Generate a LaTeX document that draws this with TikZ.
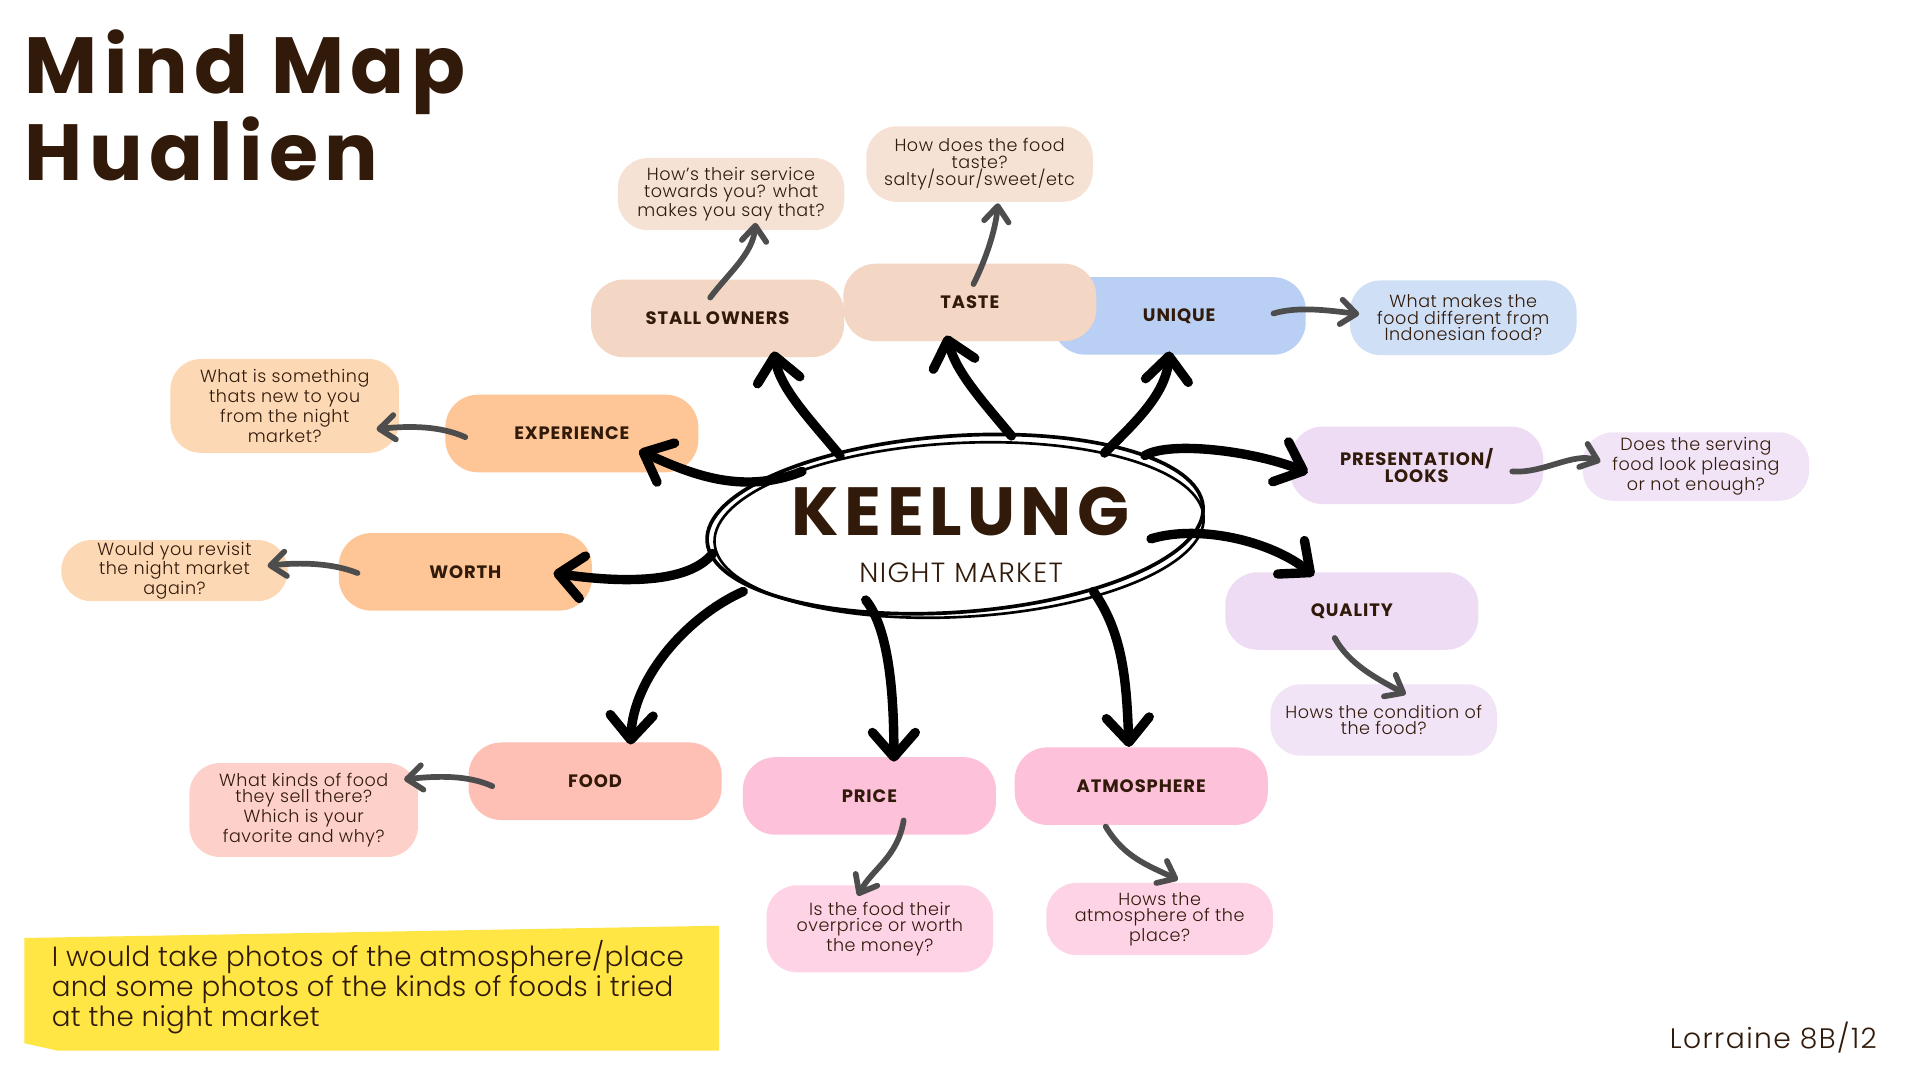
\documentclass[tikz,border=0pt]{standalone}
\usepackage{fontspec}
\usetikzlibrary{arrows.meta,calc}
\setmainfont{Poppins}
\newfontfamily\titlef{Poppins}[LetterSpace=8]
\newfontfamily\labf{Poppins}[LetterSpace=5]
\newfontfamily\qf{Poppins Light}[LetterSpace=3]
\newfontfamily\notef{Poppins Light}[LetterSpace=1]
\newfontfamily\nmf{Poppins Light}[LetterSpace=5]
\definecolor{ink}{HTML}{311A0A}
\definecolor{cPeach}{HTML}{F3D6C3}
\definecolor{cPeachL}{HTML}{F6E1D5}
\definecolor{cBlue}{HTML}{B9CFF3}
\definecolor{cBlueL}{HTML}{CFDFF6}
\definecolor{cLav}{HTML}{EDDCF3}
\definecolor{cLavL}{HTML}{F2E4F7}
\definecolor{cOrange}{HTML}{FEC596}
\definecolor{cOrangeL}{HTML}{FDD8B4}
\definecolor{cSalmon}{HTML}{FEBFB4}
\definecolor{cSalmonL}{HTML}{FED0CA}
\definecolor{cPink}{HTML}{FEC1DA}
\definecolor{cPinkL}{HTML}{FED3E6}
\definecolor{cYellow}{HTML}{FFE645}
\definecolor{cGray}{HTML}{4D4D4D}
\tikzset{
  box/.style={rounded corners=16pt, minimum width=124pt, minimum height=38pt, inner sep=0pt,
    font=\labf\bfseries\fontsize{8.8pt}{8.6pt}\selectfont, text=ink, align=center},
  qb/.style={rounded corners=15pt, minimum width=111pt, inner sep=0pt,
    font=\qf\fontsize{8.6pt}{8.2pt}\selectfont, text=ink, align=center},
  bigarr/.style={line width=4.6pt, line cap=round, -{Straight Barb[length=12pt,width=21pt,round]}},
  grayarr/.style={draw=cGray, line width=2.8pt, line cap=round, -{Straight Barb[length=7.5pt,width=12pt,round]}}
}
\begin{document}
\begin{tikzpicture}[x=0.6pt,y=-0.6pt]
\useasboundingbox (0,0) rectangle (1568,882);
\fill[white] (0,0) rectangle (1568,882);

% title
\node[anchor=base west, inner sep=0, text=ink, font=\titlef\bfseries\fontsize{39pt}{42pt}\selectfont] (t1) at (20,76) {Mind Map};
\node[anchor=base west, inner sep=0, text=ink, font=\titlef\bfseries\fontsize{39pt}{42pt}\selectfont] (t2) at (20,147) {Hualien};

% main boxes
\node[box, fill=cBlue] (unique) at (963,258) {UNIQUE};
\node[box, fill=cPeach] (taste) at (792,247) {TASTE};
\node[box, fill=cPeach] (stall) at (586,260) {STALL OWNERS};
\node[box, fill=cOrange] (exp) at (467,354) {EXPERIENCE};
\node[box, fill=cOrange] (worth) at (380,467) {WORTH};
\node[box, fill=cSalmon] (food) at (486,638) {FOOD};
\node[box, fill=cPink] (price) at (710,650) {PRICE};
\node[box, fill=cPink] (atmos) at (932,642) {ATMOSPHERE};
\node[box, fill=cLav] (pres) at (1157,380) {PRESENTATION/\\LOOKS};
\node[box, fill=cLav] (qual) at (1104,499) {QUALITY};

% question bubbles
\node[qb, fill=cPeachL, minimum height=35.4pt] (stallq) at (597,158.5) {How’s their service\\towards you? what\\makes you say that?};
\node[qb, fill=cPeachL, minimum height=37pt] (tasteq) at (800,134) {How does the food\\taste?\\salty/sour/sweet/etc};
\node[qb, fill=cBlueL, minimum height=36.6pt] (uniqueq) at (1195,259.5) {What makes the\\food different from\\Indonesian food?};
\node[qb, fill=cLavL, minimum height=33.6pt] (presq) at (1385,381) {Does the serving\\food look pleasing\\or not enough?};
\node[qb, fill=cLavL, minimum height=35pt] (qualq) at (1130,588) {Hows the condition of\\the food?};
\node[qb, fill=cOrangeL, minimum width=112pt, minimum height=46pt] (expq) at (232.5,331.5) {What is something\\thats new to you\\from the night\\market?};
\node[qb, fill=cOrangeL, minimum height=30pt] (worthq) at (142.5,466) {Would you revisit\\the night market\\again?};
\node[qb, fill=cSalmonL, minimum width=112pt, minimum height=46pt] (foodq) at (248,661.5) {What kinds of food\\they sell there?\\Which is your\\favorite and why?};
\node[qb, fill=cPinkL, minimum height=42.6pt] (priceq) at (718.5,758.5) {Is the food their\\overprice or worth\\the money?};
\node[qb, fill=cPinkL, minimum height=35.4pt] (atmq) at (947,750.5) {Hows the\\atmosphere of the\\place?};

% centre
\coordinate (c) at (780,428);
\fill[white, rotate around={4:(c)}] (c) ellipse [x radius=203, y radius=72];

% black arrows
\draw[bigarr] ($(c)+(-94,-56)$) .. controls +(-25,-30) and +(5,30) .. ($(stall)+(46,27)$);
\draw[bigarr] ($(c)+(46,-72)$) .. controls +(-25,-30) and +(8,30) .. ($(taste)+(-19,27)$);
\draw[bigarr] ($(c)+(122,-58)$) .. controls +(25,-25) and +(-3,35) .. ($(unique)+(-8,29)$);
\draw[bigarr] ($(c)+(155,-56)$) .. controls +(20,-12) and +(-45,-18) .. ($(pres)+(-89,6)$);
\draw[bigarr] ($(c)+(160,12)$) .. controls +(40,-12) and +(-35,-28) .. ($(qual)+(-31,-29)$);
\draw[bigarr] ($(c)+(113,55)$) .. controls +(25,35) and +(-2,-50) .. ($(atmos)+(-10,-32)$);
\draw[bigarr] ($(c)+(-73,62)$) .. controls +(20,25) and +(0,-50) .. ($(price)+(20,-28)$);
\draw[bigarr] ($(c)+(-173,55)$) .. controls +(-45,20) and +(2,-55) .. ($(food)+(29,-30)$);
\draw[bigarr] ($(c)+(-198,24)$) .. controls +(-20,25) and +(55,8) .. ($(worth)+(72,1)$);
\draw[bigarr] ($(c)+(-125,-43)$) .. controls +(-50,20) and +(40,18) .. ($(exp)+(55,14)$);

% gray arrows
\draw[grayarr] ($(stall)+(-6,-17)$) .. controls +(15,-20) and +(-2,25) .. ($(stallq)+(20,23.5)$);
\draw[grayarr] ($(taste)+(3,-15)$) .. controls +(10,-20) and +(-2,22) .. ($(tasteq)+(15,32)$);
\draw[grayarr] ($(unique)+(77,-2)$) .. controls +(20,-6) and +(-25,-3) .. ($(uniqueq)+(-85,-3)$);
\draw[grayarr] ($(pres)+(78,5)$) .. controls +(25,2) and +(-22,-8) .. ($(presq)+(-78,-4)$);
\draw[grayarr] ($(qual)+(-14,22)$) .. controls +(12,22) and +(-22,-12) .. ($(qualq)+(18,-21)$);
\draw[grayarr] ($(exp)+(-87,3)$) .. controls +(-20,-9) and +(28,-3) .. ($(expq)+(75,19)$);
\draw[grayarr] ($(worth)+(-88,1)$) .. controls +(-20,-8) and +(28,-3) .. ($(worthq)+(76,-4)$);
\draw[grayarr] ($(food)+(-84,4)$) .. controls +(-20,-9) and +(28,-3) .. ($(foodq)+(82,-25)$);
\draw[grayarr] ($(price)+(28,20)$) .. controls +(-5,30) and +(12,-22) .. ($(priceq)+(-18,-27)$);
\draw[grayarr] ($(atmos)+(-29,33)$) .. controls +(15,25) and +(-25,-12) .. ($(atmq)+(15,-32)$);

% hand-drawn ellipse strokes
\draw[line width=1.8pt, rotate around={4:(c)}] (c) ellipse [x radius=203, y radius=72];
\draw[line width=1.3pt, rotate around={3:($(c)+(3,5)$)}] ($(c)+(3,5)$) ellipse [x radius=200, y radius=71];

\node[anchor=base, inner sep=0, text=ink, font=\titlef\bfseries\fontsize{33.4pt}{34pt}\selectfont] (keel) at (784.5,437) {KEELUNG};
\node[anchor=base, inner sep=0, text=ink, font=\nmf\fontsize{13.6pt}{14pt}\selectfont] (nm) at (785,476) {NIGHT MARKET};

% note
\fill[cYellow] (20,766) -- (587,756) -- (587,858) -- (47,858) -- (20,852) -- cycle;
\node[anchor=west, inner sep=0, align=left, text=ink, font=\notef\fontsize{13.6pt}{13.1pt}\selectfont] (note) at (42,806) {I would take photos of the atmosphere/place\\and some photos of the kinds of foods i tried\\at the night market};

\node[anchor=base east, inner sep=0, text=ink, font=\nmf\fontsize{13.8pt}{14pt}\selectfont] (sig) at (1533,856) {Lorraine 8B/12};
\end{tikzpicture}
\end{document}
